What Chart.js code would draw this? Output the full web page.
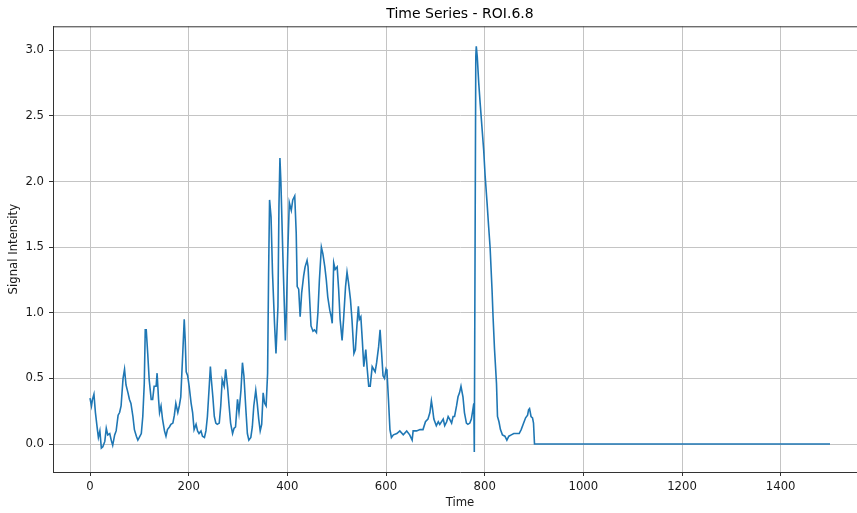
<!DOCTYPE html>
<html>
<head>
<meta charset="utf-8">
<script src="https://cdn.jsdelivr.net/npm/chart.js@4.4.1/dist/chart.umd.min.js"></script>
<style>
  html, body { margin: 0; padding: 0; background: #fff; overflow: hidden; }
</style>
</head>
<body>
<!-- the reference axes run a little past the right edge of the picture -->
<canvas id="chart" width="867" height="513"></canvas>
<script>
// time samples, one row = 10 points
const times = [
  0, 3, 5, 8, 11, 15, 17, 20, 23, 26,
  30, 33, 36, 40, 43, 46, 50, 53, 57, 60,
  63, 67, 70, 73, 77, 80, 83, 87, 90, 94,
  97, 100, 104, 107, 110, 112, 114, 117, 120, 124,
  127, 130, 134, 136, 139, 141, 144, 147, 151, 154,
  157, 161, 164, 168, 171, 174, 178, 181, 184, 188,
  191, 193, 195, 198, 201, 205, 208, 211, 215, 218,
  221, 225, 228, 232, 235, 238, 242, 244, 246, 249,
  252, 255, 258, 262, 265, 268, 272, 275, 279, 282,
  285, 289, 292, 295, 299, 302, 306, 309, 312, 316,
  319, 322, 326, 329, 332, 336, 339, 342, 345, 348,
  351, 354, 357, 360, 362, 364, 367, 370, 374, 377,
  381, 383, 385, 387, 391, 394, 396, 398, 401, 404,
  408, 411, 415, 418, 420, 423, 426, 429, 433, 436,
  440, 442, 445, 448, 452, 455, 459, 462, 465, 469,
  472, 476, 479, 482, 486, 489, 491, 494, 497, 501,
  504, 507, 511, 514, 518, 521, 524, 528, 531, 535,
  538, 541, 544, 546, 549, 552, 555, 559, 562, 565,
  568, 572, 575, 578, 581, 585, 588, 591, 594, 597,
  600, 602, 605, 608, 611, 615, 622, 628, 635, 642,
  648, 653, 655, 662, 669, 675, 680, 685, 689, 692,
  694, 697, 702, 706, 709, 716, 719, 723, 726, 729,
  733, 736, 739, 743, 746, 749, 752, 756, 759, 763,
  766, 770, 773, 776, 778, 779, 782, 783, 785, 788,
  791, 795, 798, 801, 805, 808, 811, 815, 817, 820,
  824, 826, 829, 832, 836, 841, 845, 849, 854, 859,
  864, 870, 874, 879, 883, 887, 889, 891, 894, 897,
  899, 901, 1500
];

const signal = [
  0.35, 0.29, 0.34, 0.38, 0.24, 0.11, 0.05, 0.10, -0.03, -0.02,
  0.02, 0.12, 0.07, 0.08, 0.03, -0.01, 0.07, 0.10, 0.22, 0.24,
  0.29, 0.50, 0.57, 0.45, 0.39, 0.34, 0.31, 0.21, 0.11, 0.06,
  0.03, 0.05, 0.08, 0.21, 0.46, 0.87, 0.87, 0.69, 0.49, 0.34,
  0.34, 0.44, 0.44, 0.54, 0.34, 0.24, 0.29, 0.19, 0.10, 0.06,
  0.11, 0.13, 0.15, 0.16, 0.22, 0.31, 0.24, 0.29, 0.36, 0.69,
  0.95, 0.79, 0.55, 0.52, 0.44, 0.31, 0.24, 0.11, 0.15, 0.10,
  0.08, 0.10, 0.06, 0.05, 0.10, 0.21, 0.46, 0.59, 0.49, 0.36,
  0.21, 0.16, 0.15, 0.16, 0.29, 0.49, 0.44, 0.57, 0.43, 0.29,
  0.16, 0.08, 0.12, 0.13, 0.34, 0.24, 0.41, 0.62, 0.52, 0.26,
  0.08, 0.03, 0.05, 0.13, 0.29, 0.41, 0.31, 0.19, 0.10, 0.15,
  0.39, 0.31, 0.29, 0.54, 1.30, 1.86, 1.73, 1.30, 0.92, 0.69,
  1.05, 1.81, 2.18, 1.99, 1.43, 1.05, 0.79, 1.00, 1.48, 1.84,
  1.78, 1.86, 1.89, 1.61, 1.20, 1.18, 0.97, 1.15, 1.28, 1.35,
  1.40, 1.35, 1.12, 0.90, 0.86, 0.87, 0.85, 1.00, 1.25, 1.50,
  1.45, 1.35, 1.25, 1.12, 1.02, 0.97, 0.92, 1.38, 1.33, 1.35,
  1.18, 0.95, 0.79, 0.95, 1.20, 1.31, 1.23, 1.10, 0.95, 0.69,
  0.72, 0.90, 1.05, 0.95, 0.97, 0.79, 0.59, 0.72, 0.57, 0.44,
  0.44, 0.59, 0.57, 0.55, 0.62, 0.74, 0.87, 0.70, 0.52, 0.50,
  0.57, 0.55, 0.34, 0.11, 0.05, 0.07, 0.08, 0.10, 0.07, 0.10,
  0.07, 0.03, 0.10, 0.10, 0.11, 0.11, 0.17, 0.19, 0.24, 0.33,
  0.28, 0.19, 0.14, 0.17, 0.15, 0.19, 0.14, 0.17, 0.21, 0.19,
  0.16, 0.21, 0.21, 0.29, 0.36, 0.39, 0.44, 0.36, 0.24, 0.16,
  0.15, 0.16, 0.19, 0.26, 0.31, -0.06, 2.95, 3.03, 2.95, 2.75,
  2.59, 2.39, 2.24, 2.04, 1.83, 1.66, 1.50, 1.17, 0.97, 0.72,
  0.46, 0.21, 0.17, 0.11, 0.07, 0.06, 0.03, 0.06, 0.07, 0.08,
  0.08, 0.08, 0.11, 0.16, 0.20, 0.22, 0.26, 0.27, 0.21, 0.20,
  0.16, 0, 0
];

const xTicks = [0, 200, 400, 600, 800, 1000, 1200, 1400];
const yTicks = [0, 0.5, 1.0, 1.5, 2.0, 2.5, 3.0];

const fontFamily = "'DejaVu Sans', sans-serif";
const textColor = "#1a1a1a";
const gridColor = "#c4c4c4";
const spineColor = "#333333";

// matplotlib draws a top spine too
const topSpine = {
  id: "topSpine",
  afterDraw(chart) {
    const { ctx, chartArea } = chart;
    ctx.save();
    ctx.strokeStyle = spineColor;
    ctx.lineWidth = 1;
    ctx.beginPath();
    ctx.moveTo(chartArea.left, chartArea.top + 0.5);
    ctx.lineTo(chartArea.right, chartArea.top + 0.5);
    ctx.stroke();
    ctx.restore();
  },
};

const points = times.map((t, i) => ({ x: t, y: signal[i] }));

new Chart(document.getElementById("chart"), {
  type: "line",
  data: {
    datasets: [
      {
        data: points,
        borderColor: "#1f77b4",
        borderWidth: 1.6,
        pointRadius: 0,
        tension: 0,
        fill: false,
      },
    ],
  },
  options: {
    responsive: false,
    animation: false,
    layout: { padding: 0 },
    plugins: {
      legend: { display: false },
      tooltip: { enabled: false },
      title: {
        display: true,
        text: "Time Series - ROI.6.8",
        fullSize: false,
        color: "#000",
        font: { family: fontFamily, size: 14, weight: "normal" },
        padding: { top: 6, bottom: 3.5 },
      },
    },
    scales: {
      x: {
        type: "linear",
        min: -75,
        max: 1575,
        afterBuildTicks: (scale) => {
          scale.ticks = xTicks.map((v) => ({ value: v }));
        },
        afterFit: (scale) => {
          scale.height = 41;
        },
        grid: { color: gridColor, lineWidth: 1, tickLength: 4, tickColor: spineColor },
        border: { color: spineColor, width: 1 },
        ticks: {
          color: textColor,
          font: { family: fontFamily, size: 11.7 },
          padding: 4,
          maxRotation: 0,
          callback: (v) => String(v),
        },
        title: {
          display: true,
          text: "Time",
          color: textColor,
          font: { family: fontFamily, size: 11.7 },
          padding: { top: 0, bottom: 3 },
        },
      },
      y: {
        type: "linear",
        min: -0.213,
        max: 3.183,
        afterBuildTicks: (scale) => {
          scale.ticks = yTicks.map((v) => ({ value: v }));
        },
        afterFit: (scale) => {
          scale.width = 53;
        },
        grid: { color: gridColor, lineWidth: 1, tickLength: 4, tickColor: spineColor },
        border: { color: spineColor, width: 1 },
        ticks: {
          color: textColor,
          font: { family: fontFamily, size: 11.7 },
          padding: 5,
          callback: (v) => v.toFixed(1),
        },
        title: {
          display: true,
          text: "Signal Intensity",
          color: textColor,
          font: { family: fontFamily, size: 11.7 },
          padding: { top: 7, bottom: 0 },
        },
      },
    },
  },
  plugins: [topSpine],
});
</script>
</body>
</html>
